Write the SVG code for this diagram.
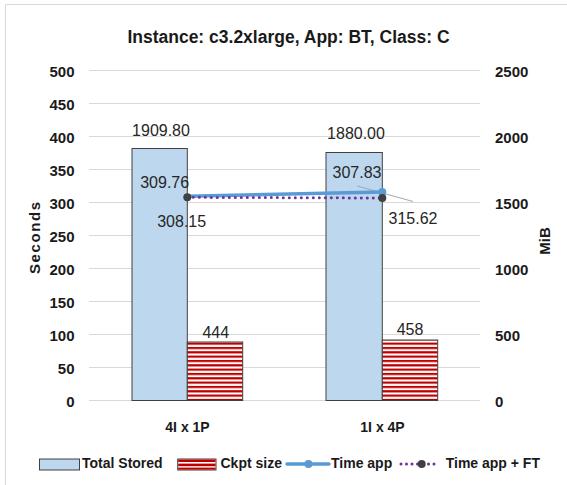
<svg xmlns="http://www.w3.org/2000/svg" width="567" height="485" viewBox="0 0 567 485">
<defs>
<style>
.grid{stroke:#d9d9d9;stroke-width:1}
.ax{font-family:"Liberation Sans",Arial,sans-serif;font-weight:bold;font-size:15px;fill:#1a1a1a}
.axl{text-anchor:end}
.dl{font-family:"Liberation Sans",Arial,sans-serif;font-size:16px;fill:#262626;text-anchor:middle}
.cat{font-family:"Liberation Sans",Arial,sans-serif;font-weight:bold;font-size:14px;fill:#1a1a1a;text-anchor:middle}
.lg{font-family:"Liberation Sans",Arial,sans-serif;font-weight:bold;font-size:14px;fill:#1a1a1a}
.tot{fill:#BDD7EE;stroke:#404040;stroke-width:1}
.ck{fill:url(#hatch);stroke:#404040;stroke-width:1}
.blue{stroke:#5B9BD5;stroke-width:3.5;fill:none;stroke-linecap:round}
.purp{stroke:#7030A0;stroke-width:3;fill:none;stroke-linecap:round;stroke-dasharray:0 6}
</style>
<pattern id="hatch" patternUnits="userSpaceOnUse" x="0" y="0.5" width="8" height="4.33">
<rect width="8" height="4.33" fill="#ffffff"/>
<rect width="8" height="2.2" fill="#C00000"/>
</pattern>
</defs>
<rect width="567" height="485" fill="#ffffff"/>
<path d="M5.5 485 V4.5 H567" fill="none" stroke="#d9d9d9" stroke-width="1"/>
<text x="288.5" y="42.5" text-anchor="middle" font-family="Liberation Sans,Arial,sans-serif" font-weight="bold" font-size="17.5" fill="#1a1a1a">Instance: c3.2xlarge, App: BT, Class: C</text>
<g id="gridlines">
<line class="grid" x1="89" y1="70.5" x2="480" y2="70.5"/>
<line class="grid" x1="89" y1="103.5" x2="480" y2="103.5"/>
<line class="grid" x1="89" y1="136.5" x2="480" y2="136.5"/>
<line class="grid" x1="89" y1="169.5" x2="480" y2="169.5"/>
<line class="grid" x1="89" y1="202.5" x2="480" y2="202.5"/>
<line class="grid" x1="89" y1="235.5" x2="480" y2="235.5"/>
<line class="grid" x1="89" y1="268.5" x2="480" y2="268.5"/>
<line class="grid" x1="89" y1="301.5" x2="480" y2="301.5"/>
<line class="grid" x1="89" y1="334.5" x2="480" y2="334.5"/>
<line class="grid" x1="89" y1="367.5" x2="480" y2="367.5"/>
<line class="grid" x1="89" y1="400.5" x2="480" y2="400.5"/>
</g>
<g id="left-axis">
<text class="ax axl" x="74.5" y="76.5">500</text>
<text class="ax axl" x="74.5" y="109.5">450</text>
<text class="ax axl" x="74.5" y="142.5">400</text>
<text class="ax axl" x="74.5" y="175.5">350</text>
<text class="ax axl" x="74.5" y="208.5">300</text>
<text class="ax axl" x="74.5" y="241.5">250</text>
<text class="ax axl" x="74.5" y="274.5">200</text>
<text class="ax axl" x="74.5" y="307.5">150</text>
<text class="ax axl" x="74.5" y="340.5">100</text>
<text class="ax axl" x="74.5" y="373.5">50</text>
<text class="ax axl" x="74.5" y="406.5">0</text>
<text class="ax" font-size="14" text-anchor="middle" transform="translate(39.5,238) rotate(-90)" textLength="72" lengthAdjust="spacing">Seconds</text>
</g>
<g id="right-axis">
<text class="ax" x="495" y="76.5">2500</text>
<text class="ax" x="495" y="142.5">2000</text>
<text class="ax" x="495" y="208.5">1500</text>
<text class="ax" x="495" y="274.5">1000</text>
<text class="ax" x="495" y="340.5">500</text>
<text class="ax" x="495" y="406.5">0</text>
<text class="ax" font-size="13" text-anchor="middle" transform="translate(549.5,241) rotate(-90)">MiB</text>
</g>
<g id="bar-total-4Ix1P"><rect class="tot" x="132" y="148.5" width="55.3" height="252"/></g>
<g id="bar-ckpt-4Ix1P"><rect class="ck" x="187.3" y="342" width="55.4" height="58.5"/></g>
<g id="bar-total-1Ix4P"><rect class="tot" x="326" y="152.5" width="56.3" height="248"/></g>
<g id="bar-ckpt-1Ix4P"><rect class="ck" x="382.3" y="340" width="55.4" height="60.5"/></g>
<g id="connectors">
<line x1="357" y1="186" x2="413" y2="201.5" stroke="#a6a6a6" stroke-width="1"/>
<line class="blue" x1="187.3" y1="196.2" x2="382.3" y2="192"/>
<circle cx="382.3" cy="192" r="4" fill="#5B9BD5"/>
<line class="purp" x1="187.3" y1="197.3" x2="382.3" y2="198"/>
<circle cx="187.3" cy="197.3" r="4" fill="#404040"/>
<circle cx="382.3" cy="198" r="4" fill="#404040"/>
</g>
<g id="data-labels">
<text class="dl" x="161" y="135.5">1909.80</text>
<text class="dl" x="356" y="139">1880.00</text>
<text class="dl" x="164.7" y="188">309.76</text>
<text class="dl" x="181.7" y="227">308.15</text>
<text class="dl" x="357" y="178">307.83</text>
<text class="dl" x="413" y="224">315.62</text>
<text class="dl" x="215.8" y="338.3">444</text>
<text class="dl" x="410" y="335">458</text>
</g>
<g id="categories">
<text class="cat" x="187.5" y="431.5">4I x 1P</text>
<text class="cat" x="382.5" y="431.5">1I x 4P</text>
</g>
<g id="legend">
<rect class="tot" x="39.5" y="459" width="40" height="11"/>
<text class="lg" x="82" y="468">Total Stored</text>
<rect x="177.7" y="459" width="38.3" height="11" fill="#ffffff" stroke="#404040" stroke-width="1"/>
<rect x="178.2" y="459.5" width="37.3" height="2.5" fill="#C00000"/>
<rect x="178.2" y="463.6" width="37.3" height="2.6" fill="#C00000"/>
<rect x="178.2" y="467.6" width="37.3" height="2" fill="#C00000"/>
<text class="lg" x="220.5" y="468">Ckpt size</text>
<line class="blue" x1="287" y1="464" x2="329" y2="464"/>
<circle cx="308.5" cy="464" r="4" fill="#5B9BD5"/>
<text class="lg" x="331" y="468">Time app</text>
<line class="purp" x1="401" y1="464" x2="437" y2="464" style="stroke-dasharray:0 5.5"/>
<circle cx="421.7" cy="464" r="4" fill="#404040"/>
<text class="lg" x="445.7" y="468">Time app + FT</text>
</g>
</svg>
